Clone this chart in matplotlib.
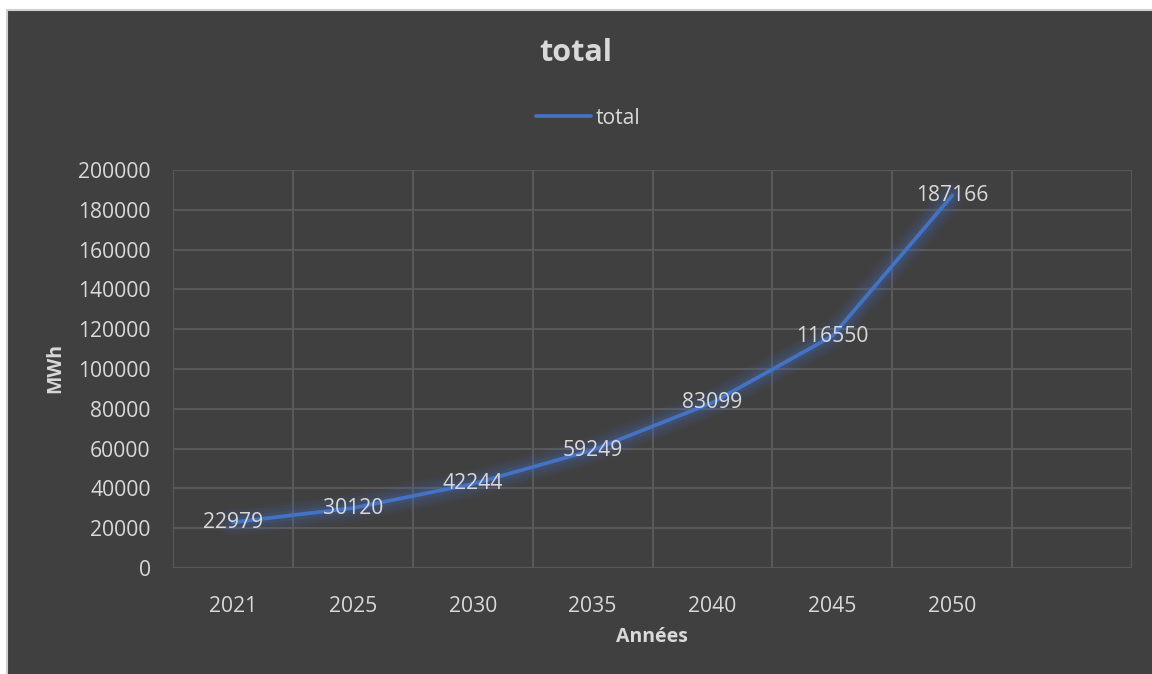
import matplotlib
matplotlib.use("Agg")
import matplotlib.pyplot as plt
from matplotlib.patches import Rectangle
from matplotlib.lines import Line2D

# data
years = ["2021", "2025", "2030", "2035", "2040", "2045", "2050"]
totals = [22979, 30120, 42244, 59249, 83099, 116550, 187166]
n_cats = 8  # excel left one empty category on the right

plt.rcParams['font.family'] = ['Open Sans', 'DejaVu Sans']

bg = "#404040"
txt = "#D9D9D9"
grid = "#595959"
blue = "#4472C4"
fs = 15.2

W, H = 1152, 674
fig = plt.figure(figsize=(W / 100, H / 100), dpi=100, facecolor="white")

# dark chart area with light frame (only top/left visible)
fig.patches.append(Rectangle((7 / W, -0.05), 1.1, 1.05 - 10 / H,
                             transform=fig.transFigure, facecolor=bg,
                             edgecolor="#D0D0D0", linewidth=1.5, zorder=-10))

ax = fig.add_axes([173 / W, (H - 568) / H, (1132 - 173) / W, (568 - 170) / H])
ax.set_facecolor(bg)
ax.patch.set_alpha(0)

x = list(range(len(years)))

# glow
for lw, a in [(28, 0.06), (22, 0.08), (16, 0.10), (10, 0.13)]:
    ax.plot(x, totals, color=blue, lw=lw * 0.72, alpha=a,
            solid_capstyle="round", solid_joinstyle="round", zorder=2)
ax.plot(x, totals, color=blue, lw=2.7, solid_capstyle="round",
        solid_joinstyle="round", zorder=3)

for xi, v in zip(x, totals):
    ax.text(xi, v, str(v), color=txt, fontsize=fs, ha="center",
            va="center", zorder=4)

ax.set_xlim(-0.5, n_cats - 0.5)
ax.set_ylim(0, 200000)
ax.set_yticks(range(0, 200001, 20000))
ax.set_yticklabels([str(v) for v in range(0, 200001, 20000)])
ax.set_xticks(x)
ax.set_xticklabels(years)
ax.set_xticks([i - 0.5 for i in range(n_cats + 1)], minor=True)

ax.grid(True, which="major", axis="y", color=grid, lw=1.5, zorder=1)
ax.grid(True, which="minor", axis="x", color=grid, lw=1.5, zorder=1)
ax.grid(False, which="major", axis="x")
ax.set_axisbelow(True)
for s in ax.spines.values():
    s.set_visible(False)
ax.tick_params(which="both", length=0)
ax.tick_params(axis="y", colors=txt, labelsize=fs, pad=16)
ax.tick_params(axis="x", colors=txt, labelsize=fs, pad=20)

fig.text(652 / W, 1 - 637 / H, "Années", color=txt, fontsize=14,
         fontweight="bold", ha="center", va="center")
fig.text(55 / W, 1 - 368 / H, "MWh", color=txt, fontsize=14,
         fontweight="bold", ha="center", va="center", rotation=90)
fig.text(0.5, 1 - 53 / H, "total", color=txt, fontsize=22,
         fontweight="bold", ha="center", va="center")

handle = Line2D([], [], color=blue, lw=2.7, solid_capstyle="round")
fig.legend([handle], ["total"], loc="center", bbox_to_anchor=(588 / W, 1 - 118 / H),
           frameon=False, labelcolor=txt, fontsize=fs,
           handlelength=2.6, handletextpad=0.2)

fig.savefig("out.png", dpi=100, facecolor=fig.get_facecolor())
